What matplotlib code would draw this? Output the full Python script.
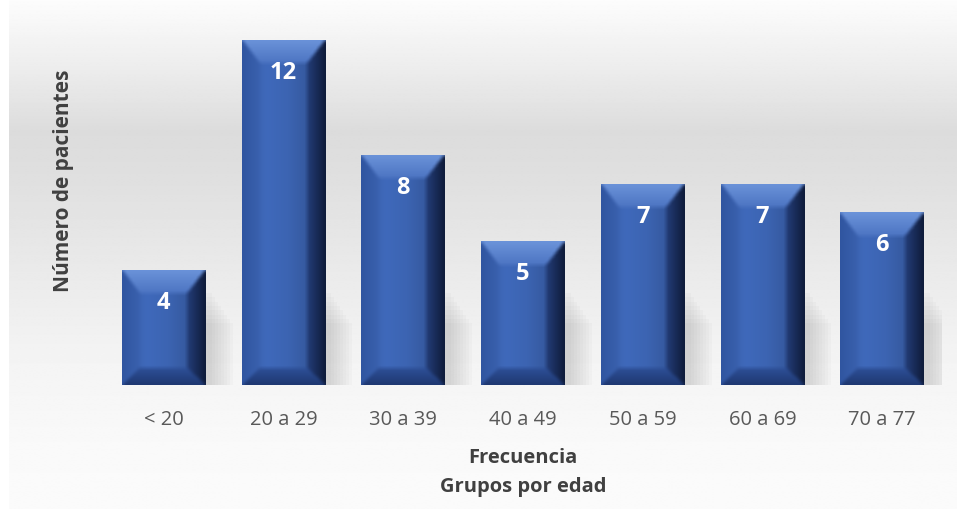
import matplotlib
matplotlib.use("Agg")
import matplotlib.pyplot as plt
import numpy as np

# data
categories = ["< 20", "20 a 29", "30 a 39", "40 a 49", "50 a 59", "60 a 69", "70 a 77"]
patients = [4, 12, 8, 5, 7, 7, 6]

plt.rcParams['font.family'] = ['Open Sans', 'DejaVu Sans']

W, H = 957, 510
fig = plt.figure(figsize=(W / 100, H / 100), dpi=100)
fig.patch.set_facecolor("white")

# background gradient (light at top, grey band near bar bottoms, light at bottom)
bg = fig.add_axes([9 / W, 0, 1 - 9 / W, 1])
bg.set_axis_off()
rows = np.linspace(0, 1, 400)
stops_y = [0.0, 0.12, 0.30, 0.50, 0.64, 0.74, 0.80, 0.88, 1.0]
stops_v = [0.984, 0.978, 0.955, 0.91, 0.878, 0.862, 0.895, 0.935, 0.99]
col = np.interp(rows, stops_y, stops_v)
bg.imshow(np.repeat(col[:, None], 2, axis=1), cmap="gray", vmin=0, vmax=1,
          aspect="auto", extent=(0, 1, 0, 1), interpolation="bilinear")
bg.set_xlim(0, 1)
bg.set_ylim(1, 0)

# main axes
left, right = 104 / W, 942 / W
bottom, top = (H - 386) / H, (H - 12) / H
ax = fig.add_axes([left, bottom, right - left, top - bottom])
ax.patch.set_alpha(0)
x = np.arange(len(categories))
bar_w = 0.70
ax.set_xlim(-0.5, len(categories) - 0.5)
ax.set_ylim(0, 13)
for s in ax.spines.values():
    s.set_visible(False)
ax.set_yticks([])
ax.set_xticks(x)
ax.set_xticklabels(categories, fontsize=14.5, color="#595959")
ax.tick_params(axis="x", length=0, pad=17)

px_x = (right - left) * W / len(categories)   # pixels per x unit
px_y = (top - bottom) * H / 13.0               # pixels per y unit

bars = ax.bar(x, patients, width=bar_w, color="none", edgecolor="none", zorder=3)


def blur(img, k):
    ker = np.ones(k) / k
    out = img.copy()
    for axis in (0, 1):
        pad = [(0, 0)] * 3
        pad[axis] = (k // 2, k // 2)
        p = np.pad(out, pad, mode="edge")
        out = np.apply_along_axis(lambda m: np.convolve(m, ker, mode="valid"), axis, p)
    return out


def bevel_image(pw, ph):
    r = np.arange(ph)[:, None] + 0.5
    c = np.arange(pw)[None, :] + 0.5
    dt, db = r / 24.0, (ph - r) / 17.0
    dl, dr = c / 18.0, (pw - c) / 19.0
    d = np.stack(np.broadcast_arrays(dt, db, dl, dr))
    side = np.argmin(d, axis=0)
    dmin = np.min(d, axis=0)
    fx = np.broadcast_to(c / pw, (ph, pw))
    base = np.array([60, 100, 178]) / 255
    mult = np.interp(fx, [0, 0.3, 0.55, 0.8, 1], [0.92, 1.05, 1.0, 0.88, 0.75])
    img = base * mult[..., None]
    t = np.clip(dmin, 0, 1)[..., None]
    top_c = (np.array([108, 148, 218]) / 255) * (1 - t) + (np.array([76, 116, 194]) / 255) * t
    bot_c = (np.array([30, 55, 112]) / 255) * (1 - t) + (np.array([46, 80, 152]) / 255) * t
    lef_c = (np.array([48, 85, 160]) / 255) * (1 - t) + (np.array([58, 97, 174]) / 255) * t
    rig_c = (np.array([14, 26, 56]) / 255) * (1 - t) + (np.array([36, 62, 122]) / 255) * t
    inside = dmin < 1
    for k, cc in enumerate([top_c, bot_c, lef_c, rig_c]):
        m = inside & (side == k)
        img[m] = cc[m]
    return np.clip(blur(img, 5), 0, 1)


for b, v in zip(bars, patients):
    x0 = b.get_x()
    w = b.get_width()
    pw = int(round(w * px_x))
    ph = int(round(v * px_y))
    # soft shadow to the right of the bar
    for k in range(8):
        sh = plt.Rectangle((x0 + (6 + 3 * k) / px_x, 0), w, min(v, 3.2 - 0.15 * k),
                           color="#7a7a7a", alpha=0.035, lw=0, zorder=1)
        ax.add_patch(sh)
    im = ax.imshow(bevel_image(pw, ph), extent=(x0, x0 + w, 0, v), aspect="auto",
                   interpolation="bilinear", zorder=3)
    im.set_clip_path(b)
    ax.text(b.get_x() + w / 2, v - 32 / px_y, str(v), ha="center", va="center",
            color="white", fontsize=17, fontweight="bold", zorder=5)

ax.set_aspect("auto")
ax.set_xlim(-0.5, len(categories) - 0.5)
ax.set_ylim(0, 13)

fig.text(523 / W, 1 - 458 / H, "Frecuencia", ha="center", va="center",
         fontsize=14.5, fontweight="bold", color="#404040")
fig.text(523 / W, 1 - 487 / H, "Grupos por edad", ha="center", va="center",
         fontsize=14.5, fontweight="bold", color="#404040")
fig.text(63 / W, 1 - 181 / H, "Número de pacientes", ha="center", va="center",
         rotation=90, fontsize=15, fontweight="bold", color="#404040")

fig.savefig("out.png", dpi=100)
